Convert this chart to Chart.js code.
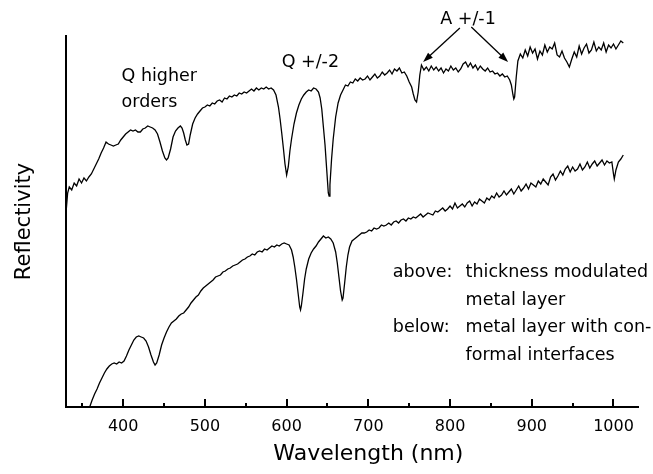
<!DOCTYPE html>
<html>
<head>
<meta charset="utf-8">
<script src="https://cdn.jsdelivr.net/npm/chart.js@4.4.1/dist/chart.umd.min.js"></script>
<style>
    html, body { margin: 0; padding: 0; background: #fff; }
    #wrap { position: relative; width: 653px; height: 474px; }
</style>
</head>
<body>
<div id="wrap"><canvas id="reflectivityChart"></canvas></div>
<script>
// Reflectivity spectra (arbitrary units, no y scale in the original)

// Upper curve: thickness modulated metal layer
const topWavelength = [
    330,332,334,337,340,343,346,349,352,355,
    358,361,364,367,370,373,376,379,382,385,
    388,391,394,397,400,403,406,409,412,415,
    418,421,424,427,430,433,436,439,442,445,
    448,451,453,455,458,461,464,467,470,472,
    474,476,478,480,482,485,488,491,494,497,
    500,503,506,509,512,515,518,521,524,527,
    530,533,536,539,542,545,548,551,554,557,
    560,563,566,569,572,575,578,581,584,587,
    590,592,594,596,598,600,602,604,606,609,
    612,615,618,621,624,627,630,633,636,639,
    641,643,645,647,649,651,652,653,655,657,
    660,663,666,669,672,675,678,681,684,687,
    690,693,696,699,702,705,708,711,714,717,
    720,723,726,729,732,735,738,741,744,747,
    750,753,755,757,759,761,763,765,768,771,
    774,777,780,783,786,789,792,795,798,801,
    804,807,810,813,816,819,822,825,828,831,
    834,837,840,843,846,849,852,855,858,861,
    864,867,870,873,875,877,878,879,881,883,
    886,889,892,895,898,901,904,907,910,913,
    916,919,922,925,928,931,934,937,940,943,
    946,949,952,955,958,961,964,967,970,973,
    976,979,982,985,988,991,994,997,1000,1003,
    1006,1009,1012
];
const topReflectivity = [
    194,214,220,217,224,221,228,224,229,226,
    230,233,238,243,248,254,259,265,263,262,
    261,262,263,267,270,273,275,277,276,277,
    275,275,278,279,281,280,279,277,273,265,
    256,249,247,249,258,270,276,279,281,279,
    274,267,262,263,272,283,289,293,296,299,
    300,302,301,304,303,306,307,305,309,308,
    311,310,312,311,314,313,315,314,316,318,
    316,319,317,319,318,320,318,319,317,312,
    300,288,274,259,243,232,240,256,268,283,
    294,302,308,312,315,317,316,319,318,315,
    309,298,280,262,238,214,211,222,248,268,
    290,304,312,317,322,321,325,324,328,326,
    329,327,328,331,327,330,333,329,331,335,
    332,334,337,333,338,336,339,334,335,331,
    325,320,313,307,305,315,332,342,337,340,
    336,341,337,340,336,339,334,338,336,341,
    337,339,335,338,343,345,340,344,339,342,
    337,341,338,336,339,335,336,333,334,331,
    333,330,331,327,322,312,308,310,330,346,
    353,349,357,351,360,354,358,348,356,352,
    362,355,360,358,364,352,350,356,349,345,
    340,348,355,350,361,353,359,363,354,357,
    365,356,360,357,364,355,362,359,363,358,
    362,366,364
];

// Lower curve: metal layer with conformal interfaces
const bottomWavelength = [
    359,362,365,368,371,374,377,380,383,386,
    389,392,395,398,401,404,407,410,413,416,
    419,422,425,428,431,434,437,439,441,444,
    447,450,453,456,459,462,465,468,471,474,
    477,480,483,486,489,492,495,498,501,504,
    507,510,513,516,519,522,525,528,531,534,
    537,540,543,546,549,552,555,558,561,564,
    567,570,573,576,579,582,585,588,591,594,
    597,600,603,606,608,610,612,614,616,617,
    618,620,622,624,627,630,633,636,639,642,
    645,648,651,654,657,660,662,664,666,668,
    669,671,673,675,677,680,683,686,689,692,
    695,698,701,704,707,710,713,716,719,722,
    725,728,731,734,737,740,743,746,749,752,
    755,758,761,764,767,770,773,776,779,782,
    785,788,791,794,797,800,803,806,809,812,
    815,818,821,824,827,830,833,836,839,842,
    845,848,851,854,857,860,863,866,869,872,
    875,878,881,884,887,890,893,896,899,902,
    905,908,911,914,917,920,923,926,929,932,
    935,938,941,944,947,950,953,956,959,962,
    965,968,971,974,977,980,983,986,989,992,
    995,998,1000,1001,1003,1006,1009,1012
];
const bottomReflectivity = [
    0,7,13,18,24,29,34,38,41,43,
    44,43,45,44,46,51,57,62,67,70,
    71,70,69,66,60,52,45,42,44,52,
    62,69,75,80,84,86,88,91,93,94,
    97,100,104,107,110,112,116,119,121,123,
    125,127,130,131,132,135,136,138,139,141,
    142,143,145,147,148,150,151,153,152,155,
    156,155,158,157,159,161,160,162,161,163,
    164,163,162,157,150,140,128,114,100,97,
    101,114,128,138,148,154,158,161,165,168,
    171,169,170,168,164,155,144,130,116,107,
    109,124,140,152,160,166,168,170,172,174,
    174,175,177,176,179,178,179,182,181,182,
    184,182,185,186,184,187,188,186,189,188,
    190,189,191,193,190,192,194,193,192,196,
    195,197,199,196,198,201,198,204,199,201,
    203,200,204,206,201,205,203,208,206,204,
    209,207,211,209,214,210,212,216,212,215,
    218,213,217,221,216,219,223,218,224,222,
    220,226,223,228,225,222,230,233,227,231,
    236,232,238,241,235,240,236,238,243,237,
    240,245,239,243,246,241,244,247,242,246,
    244,245,233,228,237,245,248,252
];

// Axis ticks
const xMajorTicks = [400, 500, 600, 700, 800, 900, 1000];
const xMinorTicks = [350, 450, 550, 650, 750, 850, 950];

const FONT = '"DejaVu Sans", "Liberation Sans", sans-serif';

// Text labels placed in data coordinates [wavelength, reflectivity]
const notes = [
    { text: 'Q higher', at: [398, 326] },
    { text: 'orders', at: [398, 300] },
    { text: 'Q +/-2', at: [594, 340] },
    { text: 'A +/-1', at: [788, 383] },
    { text: 'above:', at: [730, 130] },
    { text: 'thickness modulated', at: [819, 130] },
    { text: 'metal layer', at: [819, 102] },
    { text: 'below:', at: [730, 75] },
    { text: 'metal layer with con-', at: [819, 75] },
    { text: 'formal interfaces', at: [819, 47] }
];

// Arrows from "A +/-1" to the two dips
const arrows = [
    { from: [812, 379], to: [767, 345] },
    { from: [826, 380], to: [871, 345] }
];

function toPoints(xs, ys) {
    return xs.map((x, i) => ({ x: x, y: ys[i] }));
}

function drawArrow(ctx, x1, y1, x2, y2) {
    const ang = Math.atan2(y2 - y1, x2 - x1);
    const head = 10, half = 3.5;
    ctx.beginPath();
    ctx.moveTo(x1, y1);
    ctx.lineTo(x2 - Math.cos(ang) * head * 0.8, y2 - Math.sin(ang) * head * 0.8);
    ctx.stroke();
    ctx.beginPath();
    ctx.moveTo(x2, y2);
    ctx.lineTo(x2 - head * Math.cos(ang) + half * Math.sin(ang), y2 - head * Math.sin(ang) - half * Math.cos(ang));
    ctx.lineTo(x2 - head * Math.cos(ang) - half * Math.sin(ang), y2 - head * Math.sin(ang) + half * Math.cos(ang));
    ctx.closePath();
    ctx.fill();
}

// Inward tick marks, x title, annotations
const decorPlugin = {
    id: 'decor',
    afterDraw(chart) {
        const ctx = chart.ctx;
        const xs = chart.scales.x;
        const ys = chart.scales.y;
        const base = chart.chartArea.bottom;

        ctx.save();
        ctx.strokeStyle = '#000';
        ctx.fillStyle = '#000';
        ctx.lineWidth = 2;
        xMajorTicks.forEach(v => {
            const px = Math.round(xs.getPixelForValue(v));
            ctx.beginPath();
            ctx.moveTo(px, base);
            ctx.lineTo(px, base - 8);
            ctx.stroke();
        });
        xMinorTicks.forEach(v => {
            const px = Math.round(xs.getPixelForValue(v));
            ctx.beginPath();
            ctx.moveTo(px, base);
            ctx.lineTo(px, base - 4);
            ctx.stroke();
        });

        // x axis title
        ctx.font = '22px ' + FONT;
        ctx.textAlign = 'center';
        ctx.textBaseline = 'alphabetic';
        ctx.fillText('Wavelength (nm)', xs.getPixelForValue(700), 460);

        // annotations
        ctx.font = '17.5px ' + FONT;
        ctx.textAlign = 'left';
        notes.forEach(n => {
            ctx.fillText(n.text, xs.getPixelForValue(n.at[0]), ys.getPixelForValue(n.at[1]));
        });

        ctx.lineWidth = 1.3;
        arrows.forEach(a => {
            drawArrow(ctx,
                xs.getPixelForValue(a.from[0]), ys.getPixelForValue(a.from[1]),
                xs.getPixelForValue(a.to[0]), ys.getPixelForValue(a.to[1]));
        });
        ctx.restore();
    }
};

function initReflectivityChart() {
    const ctx = document.getElementById('reflectivityChart');

    new Chart(ctx.getContext('2d'), {
        type: 'line',
        data: {
            datasets: [{
                label: 'thickness modulated metal layer',
                data: toPoints(topWavelength, topReflectivity),
                borderColor: '#000',
                borderWidth: 1.3,
                pointRadius: 0,
                tension: 0
            }, {
                label: 'metal layer with conformal interfaces',
                data: toPoints(bottomWavelength, bottomReflectivity),
                borderColor: '#000',
                borderWidth: 1.3,
                pointRadius: 0,
                tension: 0
            }]
        },
        options: {
            responsive: true,
            maintainAspectRatio: false,
            animation: false,
            devicePixelRatio: 1,
            layout: {
                padding: { top: 36, right: 15, left: 0, bottom: 0 }
            },
            plugins: {
                legend: { display: false },
                tooltip: { enabled: false }
            },
            scales: {
                x: {
                    type: 'linear',
                    min: 330,
                    max: 1030,
                    afterBuildTicks: scale => {
                        scale.ticks = xMajorTicks.map(v => ({ value: v }));
                    },
                    afterFit: scale => { scale.height = 67; },
                    grid: { display: false, drawTicks: false },
                    border: { display: true, color: '#000', width: 2 },
                    ticks: {
                        color: '#000',
                        padding: 10,
                        maxRotation: 0,
                        font: { family: FONT, size: 16 },
                        callback: value => String(value)
                    }
                },
                y: {
                    type: 'linear',
                    min: 0,
                    max: 371,
                    afterFit: scale => { scale.width = 66; },
                    grid: { display: false, drawTicks: false },
                    border: { display: true, color: '#000', width: 2 },
                    ticks: { display: false },
                    title: {
                        display: true,
                        text: 'Reflectivity',
                        color: '#000',
                        padding: { top: 12, bottom: 0 },
                        font: { family: FONT, size: 21 }
                    }
                }
            }
        },
        plugins: [decorPlugin]
    });
}

document.addEventListener('DOMContentLoaded', initReflectivityChart);
</script>
</body>
</html>
